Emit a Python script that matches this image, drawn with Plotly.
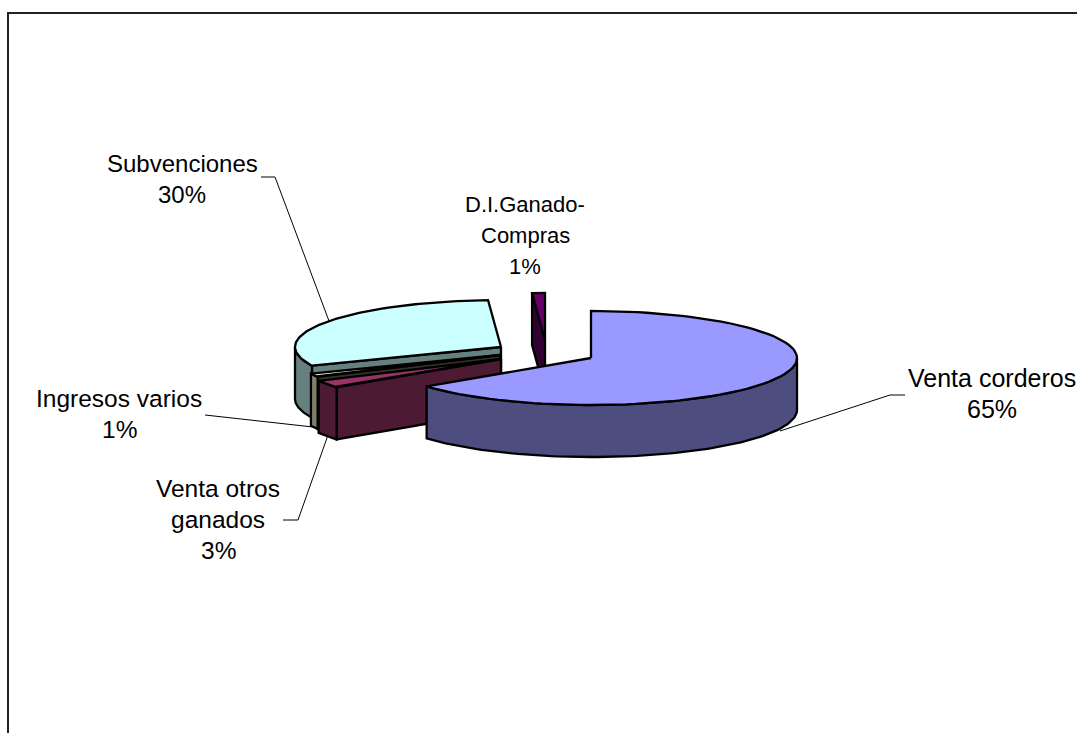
import numpy as np
import plotly.graph_objects as go

# Data
categories = ["Venta corderos", "Venta otros ganados", "Ingresos varios", "Subvenciones", "D.I.Ganado-Compras"]
values = [64.7, 2.6, 1.2, 30.5, 1.0]
label_lines = [["Venta corderos"], ["Venta otros", "ganados"], ["Ingresos varios"], ["Subvenciones"], ["D.I.Ganado-", "Compras"]]

# Styles and layout
top_colors = ["#9999FF", "#993366", "#FFFFCC", "#CCFFFF", "#660066"]
side_colors = ["#4D4D80", "#4D1A33", "#333326", "#668080", "#330033"]
rim_colors = ["#4D4D80", "#4D1A33", "#80806A", "#668080", "#330033"]
centers = [(591, 358), (501, 359), (500, 355), (501, 347), (545, 340)]
label_pos = [(992, 378), (218, 488), (119, 398), (182, 163), (525, 204)]
label_sizes = [25, 24.5, 24.5, 24, 22]
leaders = [
    [(905, 395), (890, 395), (780, 431)],
    [(283, 520), (298, 520), (328, 435)],
    [(205, 415), (313, 427)],
    [(261, 177), (275, 177), (329, 321)],
]
RX, RY, DEPTH = 206, 47, 52
LINE_STEP = 31
W, H = 1077, 733

fig = go.Figure()


def poly(xs, ys, color):
    fig.add_trace(go.Scatter(x=list(xs), y=list(ys), mode="lines", fill="toself", fillcolor=color,
                             line=dict(color="black", width=2.3), hoverinfo="skip", showlegend=False))


def arc(c, a0, a1, n=90):
    t = np.radians(np.linspace(a0, a1, n))
    return c[0] + RX * np.sin(t), c[1] - RY * np.cos(t)


edges = np.concatenate([[0], np.cumsum(values)]) * 3.6
for i in reversed(range(len(values))):
    a0, a1, c = edges[i], edges[i + 1], centers[i]
    # radial face at the start of the slice
    if a0 > 180:
        ex, ey = arc(c, a0, a0, 1)
        poly([c[0], ex[0], ex[0], c[0], c[0]], [c[1], ey[0], ey[0] + DEPTH, c[1] + DEPTH, c[1]], side_colors[i])
    # outer rim, front half only
    r0, r1 = max(a0, 90), min(a1, 270)
    if r1 > r0:
        x, y = arc(c, r0, r1)
        poly(np.r_[x, x[::-1], x[0]], np.r_[y, y[::-1] + DEPTH, y[0]], rim_colors[i])
    # top face
    x, y = arc(c, a0, a1)
    poly(np.r_[c[0], x, c[0]], np.r_[c[1], y, c[1]], top_colors[i])

shapes = []
for pts in leaders:
    d = "M" + " L".join(f"{x},{y}" for x, y in pts)
    shapes.append(dict(type="path", path=d, line=dict(color="black", width=1)))
# chart frame
shapes.append(dict(type="path", path=f"M8,{H} L8,13 L{W},13", line=dict(color="#222222", width=2)))

annotations = []
for lines, v, (x, y), size in zip(label_lines, values, label_pos, label_sizes):
    for k, text in enumerate(lines + [f"{v:.0f}%"]):
        annotations.append(dict(x=x, y=y + k * LINE_STEP, text=text, showarrow=False,
                                font=dict(family="Liberation Sans, Arial, sans-serif", size=size, color="black"),
                                xanchor="center", yanchor="middle"))

fig.update_layout(
    width=W, height=H, margin=dict(l=0, r=0, t=0, b=0),
    paper_bgcolor="white", plot_bgcolor="white", showlegend=False,
    xaxis=dict(range=[0, W], visible=False, fixedrange=True),
    yaxis=dict(range=[H, 0], visible=False, fixedrange=True),
    shapes=shapes, annotations=annotations,
)
fig.write_html("out.html", config=dict(displayModeBar=False),
               post_script="document.body.style.margin='0';document.body.style.overflow='hidden';")
